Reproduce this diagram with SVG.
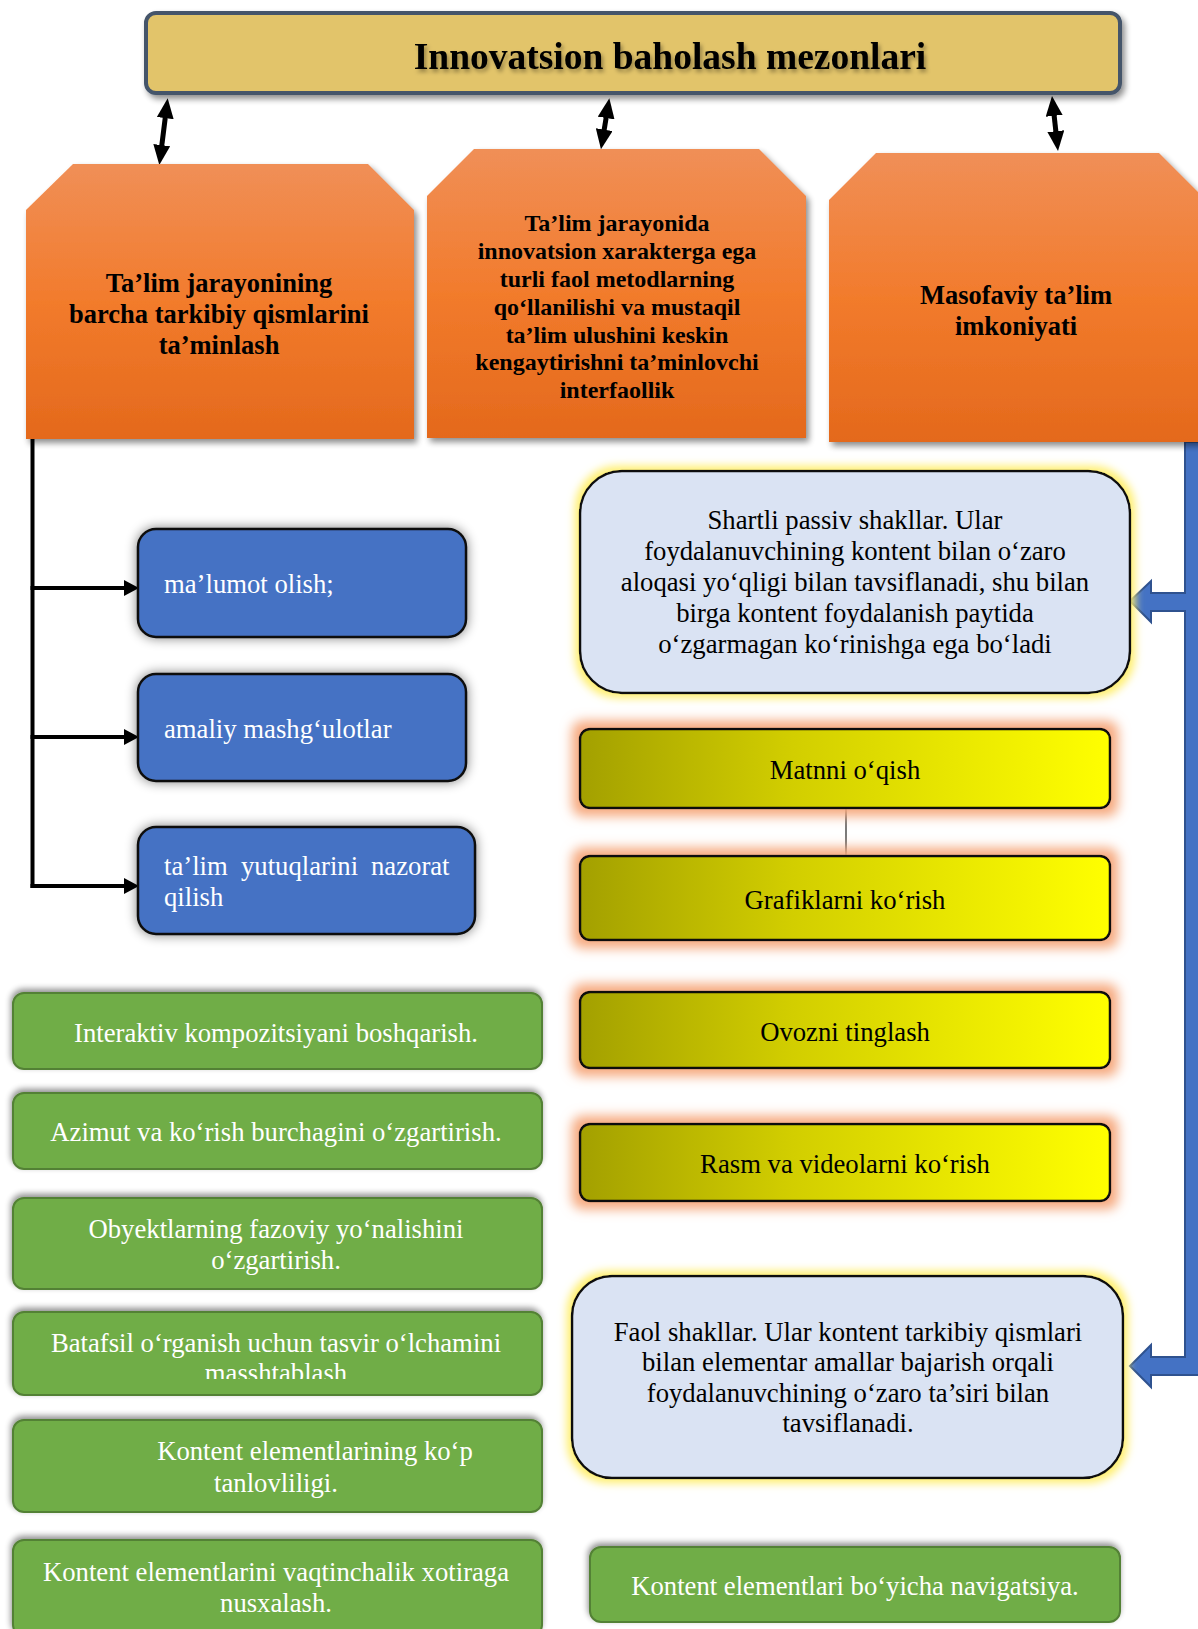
<svg xmlns="http://www.w3.org/2000/svg" width="1198" height="1629" viewBox="0 0 1198 1629">
<style>
text{font-family:"Liberation Serif","Times New Roman",serif;}
.ttl{font-size:37.5px;font-weight:bold;fill:#000;text-anchor:middle;}
.ob{font-size:26.5px;font-weight:bold;fill:#000;text-anchor:middle;}
.ob2{font-size:24px;font-weight:bold;fill:#000;text-anchor:middle;}
.wt{font-size:26.7px;fill:#fff;}
.wc{font-size:26.7px;fill:#fff;text-anchor:middle;}
.bc{font-size:26.7px;fill:#000;text-anchor:middle;}
.blue{fill:#4472C4;stroke:#111;stroke-width:2.5;}
.green{fill:#70AD47;stroke:#538135;stroke-width:2;}
.lb{fill:#DAE3F3;stroke:#111;stroke-width:2.5;}
.yel{fill:url(#gy);stroke:#111;stroke-width:2.5;}
.orange{fill:url(#go);}
.conn{fill:none;stroke:#000;stroke-width:4;}
.dbl{fill:none;stroke:#000;stroke-width:5;}
</style>
<defs>
<linearGradient id="go" x1="0" y1="0" x2="0" y2="1">
<stop offset="0" stop-color="#F08F57"/>
<stop offset="0.5" stop-color="#F27B2C"/>
<stop offset="1" stop-color="#E4691C"/>
</linearGradient>
<linearGradient id="gy" x1="0" y1="0" x2="1" y2="0">
<stop offset="0" stop-color="#A3A000"/>
<stop offset="0.4" stop-color="#D2CE00"/>
<stop offset="1" stop-color="#FFFF00"/>
</linearGradient>
<filter id="sh" x="-10%" y="-20%" width="120%" height="140%">
<feGaussianBlur in="SourceAlpha" stdDeviation="3"/>
<feOffset dx="3" dy="4" result="o"/>
<feComponentTransfer><feFuncA type="linear" slope="0.45"/></feComponentTransfer>
<feMerge><feMergeNode/><feMergeNode in="SourceGraphic"/></feMerge>
</filter>
<filter id="shb" x="-10%" y="-30%" width="120%" height="160%">
<feGaussianBlur in="SourceAlpha" stdDeviation="6"/>
<feOffset dx="0" dy="0"/>
<feComponentTransfer><feFuncA type="linear" slope="0.5"/></feComponentTransfer>
<feMerge><feMergeNode/><feMergeNode in="SourceGraphic"/></feMerge>
</filter>
<filter id="shg" x="-10%" y="-30%" width="120%" height="160%">
<feGaussianBlur in="SourceAlpha" stdDeviation="3"/>
<feOffset dx="-1" dy="-3"/>
<feComponentTransfer><feFuncA type="linear" slope="0.45"/></feComponentTransfer>
<feMerge><feMergeNode/><feMergeNode in="SourceGraphic"/></feMerge>
</filter>
<filter id="glp" x="-10%" y="-50%" width="120%" height="200%">
<feMorphology in="SourceAlpha" operator="dilate" radius="7" result="d"/>
<feGaussianBlur in="d" stdDeviation="6" result="b"/>
<feFlood flood-color="#F6A97E"/>
<feComposite in2="b" operator="in" result="g"/>
<feMerge><feMergeNode in="g"/><feMergeNode in="SourceGraphic"/></feMerge>
</filter>
<filter id="gly" x="-10%" y="-20%" width="120%" height="140%">
<feMorphology in="SourceAlpha" operator="dilate" radius="4" result="d"/>
<feGaussianBlur in="d" stdDeviation="4" result="b"/>
<feFlood flood-color="#FFEF70"/>
<feComposite in2="b" operator="in" result="g"/>
<feMerge><feMergeNode in="g"/><feMergeNode in="SourceGraphic"/></feMerge>
</filter>
<filter id="tsh" x="-5%" y="-30%" width="110%" height="160%">
<feGaussianBlur in="SourceAlpha" stdDeviation="2"/>
<feOffset dx="2" dy="3"/>
<feComponentTransfer><feFuncA type="linear" slope="0.35"/></feComponentTransfer>
<feMerge><feMergeNode/><feMergeNode in="SourceGraphic"/></feMerge>
</filter>
<marker id="ah" viewBox="0 0 15 16" refX="7" refY="8" markerWidth="15" markerHeight="16" orient="auto-start-reverse" markerUnits="userSpaceOnUse" preserveAspectRatio="none">
<path d="M0,0 L15,8 L0,16 Z" fill="#000"/>
</marker>
<marker id="dh" viewBox="0 0 20 17" refX="8" refY="8.5" markerWidth="20" markerHeight="17" orient="auto-start-reverse" markerUnits="userSpaceOnUse" preserveAspectRatio="none">
<path d="M0,0 L20,8.5 L0,17 Z" fill="#000"/>
</marker>
<clipPath id="cg4"><rect x="0" y="1300" width="600" height="79"/></clipPath>
</defs>

<g id="connectors">
<line class="dbl" x1="166.2" y1="110.2" x2="160.8" y2="153.1" marker-start="url(#dh)" marker-end="url(#dh)"/>
<line class="dbl" x1="607.4" y1="110.1" x2="602.9" y2="137.5" marker-start="url(#dh)" marker-end="url(#dh)"/>
<line class="dbl" x1="1053.3" y1="107.9" x2="1056.7" y2="139.1" marker-start="url(#dh)" marker-end="url(#dh)"/>
<path class="conn" d="M32.5,439 L32.5,888"/>
<line class="conn" x1="30.5" y1="588" x2="131" y2="588" marker-end="url(#ah)"/>
<line class="conn" x1="30.5" y1="737" x2="131" y2="737" marker-end="url(#ah)"/>
<line class="conn" x1="30.5" y1="886" x2="131" y2="886" marker-end="url(#ah)"/>
<line x1="846" y1="808" x2="846" y2="856" stroke="#333" stroke-width="1.3"/>
<path d="M1185,442 L1199,442 L1199,1375 L1151,1375 L1151,1387 L1130,1366 L1151,1345 L1151,1357 L1185,1357 L1185,611 L1151,611 L1151,622 L1130,601 L1151,581 L1151,593 L1185,593 Z" fill="#4472C4" stroke="#2F528F" stroke-width="2"/>
</g>

<g id="title">
<rect x="146" y="13" width="974" height="80" rx="10" fill="#E2C46B" stroke="#44546A" stroke-width="4" filter="url(#sh)"/>
<text class="ttl" x="670" y="69" filter="url(#tsh)">Innovatsion baholash mezonlari</text>
</g>

<g id="box1">
<path class="orange" d="M73,164 L368,164 L414,210 L414,439 L26,439 L26,210 Z" filter="url(#sh)"/>
<text class="ob" x="219" y="292">Ta’lim jarayonining</text>
<text class="ob" x="219" y="323">barcha tarkibiy qismlarini</text>
<text class="ob" x="219" y="354">ta’minlash</text>
</g>

<g id="box2">
<path class="orange" d="M474,149 L759,149 L806,196 L806,438 L427,438 L427,196 Z" filter="url(#sh)"/>
<text class="ob2" x="617" y="231">Ta’lim jarayonida</text>
<text class="ob2" x="617" y="259">innovatsion xarakterga ega</text>
<text class="ob2" x="617" y="287">turli faol metodlarning</text>
<text class="ob2" x="617" y="315">qo‘llanilishi va mustaqil</text>
<text class="ob2" x="617" y="343">ta’lim ulushini keskin</text>
<text class="ob2" x="617" y="370">kengaytirishni ta’minlovchi</text>
<text class="ob2" x="617" y="398">interfaollik</text>
</g>

<g id="box3">
<path class="orange" d="M876,153 L1159,153 L1206,200 L1206,442 L829,442 L829,200 Z" filter="url(#sh)"/>
<text class="ob" x="1016" y="304">Masofaviy ta’lim</text>
<text class="ob" x="1016" y="335">imkoniyati</text>
</g>

<g id="b1">
<rect class="blue" x="138" y="529" width="328" height="108" rx="18" filter="url(#shb)"/>
<text class="wt" x="164" y="593">ma’lumot olish;</text>
</g>
<g id="b2">
<rect class="blue" x="138" y="674" width="328" height="107" rx="18" filter="url(#shb)"/>
<text class="wt" x="164" y="738">amaliy mashg‘ulotlar</text>
</g>
<g id="b3">
<rect class="blue" x="138" y="827" width="337" height="107" rx="18" filter="url(#shb)"/>
<text class="wt" y="875"><tspan x="164">ta’lim</tspan> <tspan x="241">yutuqlarini</tspan> <tspan x="371">nazorat</tspan></text>
<text class="wt" x="164" y="906">qilish</text>
</g>

<g id="shartli">
<rect class="lb" x="580" y="471" width="550" height="222" rx="42" filter="url(#gly)"/>
<text class="bc" x="855" y="529">Shartli passiv shakllar. Ular</text>
<text class="bc" x="855" y="560">foydalanuvchining kontent bilan o‘zaro</text>
<text class="bc" x="855" y="591">aloqasi yo‘qligi bilan tavsiflanadi, shu bilan</text>
<text class="bc" x="855" y="622">birga kontent foydalanish paytida</text>
<text class="bc" x="855" y="653">o‘zgarmagan ko‘rinishga ega bo‘ladi</text>
</g>

<g id="y1">
<rect class="yel" x="580" y="729" width="530" height="79" rx="10" filter="url(#glp)"/>
<text class="bc" x="845" y="779">Matnni o‘qish</text>
</g>
<g id="y2">
<rect class="yel" x="580" y="856" width="530" height="84" rx="10" filter="url(#glp)"/>
<text class="bc" x="845" y="909">Grafiklarni ko‘rish</text>
</g>
<g id="y3">
<rect class="yel" x="580" y="992" width="530" height="76" rx="10" filter="url(#glp)"/>
<text class="bc" x="845" y="1041">Ovozni tinglash</text>
</g>
<g id="y4">
<rect class="yel" x="580" y="1124" width="530" height="77" rx="10" filter="url(#glp)"/>
<text class="bc" x="845" y="1173">Rasm va videolarni ko‘rish</text>
</g>

<g id="faol">
<rect class="lb" x="572" y="1276" width="551" height="202" rx="40" filter="url(#gly)"/>
<text class="bc" x="848" y="1341">Faol shakllar. Ular kontent tarkibiy qismlari</text>
<text class="bc" x="848" y="1371">bilan elementar amallar bajarish orqali</text>
<text class="bc" x="848" y="1402">foydalanuvchining o‘zaro ta’siri bilan</text>
<text class="bc" x="848" y="1432">tavsiflanadi.</text>
</g>

<g id="g1">
<rect class="green" x="13" y="993" width="529" height="76" rx="11" filter="url(#shg)"/>
<text class="wc" x="276" y="1042">Interaktiv kompozitsiyani boshqarish.</text>
</g>
<g id="g2">
<rect class="green" x="13" y="1093" width="529" height="76" rx="11" filter="url(#shg)"/>
<text class="wc" x="276" y="1141">Azimut va ko‘rish burchagini o‘zgartirish.</text>
</g>
<g id="g3">
<rect class="green" x="13" y="1198" width="529" height="91" rx="11" filter="url(#shg)"/>
<text class="wc" x="276" y="1238">Obyektlarning fazoviy yo‘nalishini</text>
<text class="wc" x="276" y="1269">o‘zgartirish.</text>
</g>
<g id="g4">
<rect class="green" x="13" y="1312" width="529" height="83" rx="11" filter="url(#shg)"/>
<text class="wc" x="276" y="1352">Batafsil o‘rganish uchun tasvir o‘lchamini</text>
<text class="wc" x="276" y="1382" clip-path="url(#cg4)">masshtablash</text>
</g>
<g id="g5">
<rect class="green" x="13" y="1420" width="529" height="92" rx="11" filter="url(#shg)"/>
<text class="wc" x="315" y="1460">Kontent elementlarining ko‘p</text>
<text class="wc" x="276" y="1492">tanlovliligi.</text>
</g>
<g id="g6">
<rect class="green" x="13" y="1540" width="529" height="96" rx="11" filter="url(#shg)"/>
<text class="wc" x="276" y="1581">Kontent elementlarini vaqtinchalik xotiraga</text>
<text class="wc" x="276" y="1612">nusxalash.</text>
</g>
<g id="g7">
<rect class="green" x="590" y="1547" width="530" height="75" rx="11" filter="url(#shg)"/>
<text class="wc" x="855" y="1595">Kontent elementlari bo‘yicha navigatsiya.</text>
</g>
</svg>
